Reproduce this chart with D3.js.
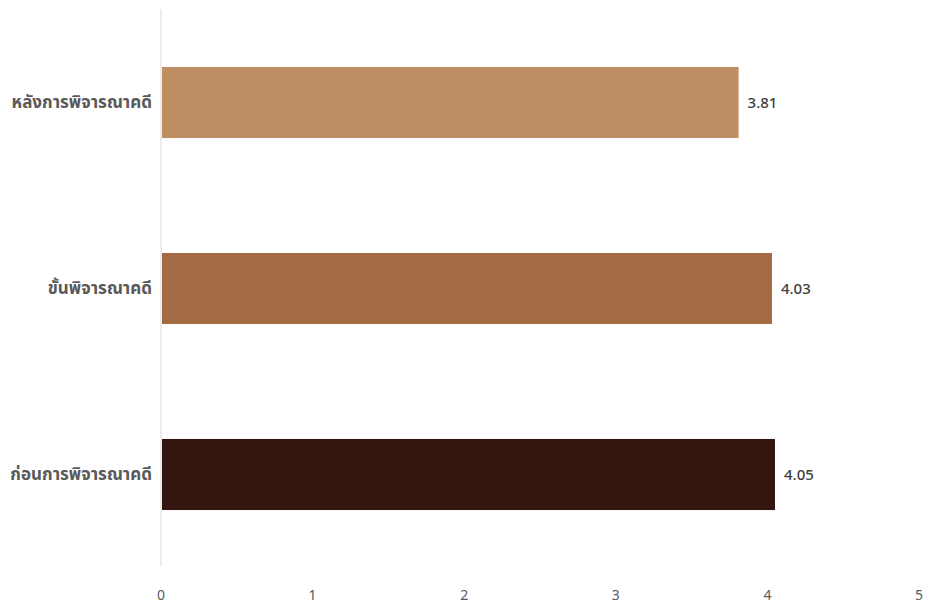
<!DOCTYPE html>
<html>
<head>
    <meta charset="utf-8"/>
    <title>Bar chart</title>
    <script src="https://d3js.org/d3.v7.min.js"></script>
</head>
<style>
    body { margin: 0; background: white; }
    text { font-family: "Noto Sans", "Noto Sans Thai", Tahoma, sans-serif; }
</style>

<body>

<svg id="chart" width="928" height="603"></svg>

<script type="text/javascript">

    var categories = ["หลังการพิจารณาคดี", "ขั้นพิจารณาคดี", "ก่อนการพิจารณาคดี"];
    var values = [3.81, 4.03, 4.05];
    var barColors = ["#bf8e62", "#a36a43", "#35150f"];
    var xTicks = [0, 1, 2, 3, 4, 5];

    var svg = d3.select("#chart");

    var x = d3.scaleLinear().domain([0, 5]).range([161, 919]);
    var y = d3.scaleBand()
            .domain(categories)
            .range([9.5, 567.5])
            .paddingInner(0.618)
            .paddingOuter(0.309);

    // vertical axis line
    svg.append("line")
            .attr("x1", x(0)).attr("x2", x(0))
            .attr("y1", 9).attr("y2", 566)
            .attr("stroke", "#d9d9d9")
            .attr("stroke-width", 1);

    // bars
    svg.selectAll(".bar")
            .data(values)
            .enter()
            .append("rect")
            .attr("class", "bar")
            .attr("x", x(0) + 1)
            .attr("y", function (d, i) { return y(categories[i]); })
            .attr("width", function (d) { return x(d) - x(0) - 1; })
            .attr("height", y.bandwidth())
            .attr("fill", function (d, i) { return barColors[i]; });

    // value labels
    svg.selectAll(".value")
            .data(values)
            .enter()
            .append("text")
            .attr("class", "value")
            .attr("x", function (d) { return x(d) + 9; })
            .attr("y", function (d, i) { return y(categories[i]) + y.bandwidth() / 2; })
            .attr("dy", "0.35em")
            .attr("font-size", 15)
            .attr("font-weight", 500)
            .attr("fill", "#404040")
            .text(function (d) { return d.toFixed(2); });

    // category labels
    svg.selectAll(".cat")
            .data(categories)
            .enter()
            .append("text")
            .attr("class", "cat")
            .attr("x", x(0) - 9)
            .attr("y", function (d) { return y(d) + y.bandwidth() / 2; })
            .attr("dy", "0.35em")
            .attr("text-anchor", "end")
            .attr("font-size", 17)
            .attr("font-weight", "bold")
            .attr("fill", "#595959")
            .text(function (d) { return d; });

    // x tick labels
    svg.selectAll(".tick-label")
            .data(xTicks)
            .enter()
            .append("text")
            .attr("class", "tick-label")
            .attr("x", function (d) { return x(d); })
            .attr("y", 595)
            .attr("dy", "0.35em")
            .attr("text-anchor", "middle")
            .attr("font-size", 14)
            .attr("fill", "#595959")
            .text(function (d) { return d; });
</script>
</body>
</html>
